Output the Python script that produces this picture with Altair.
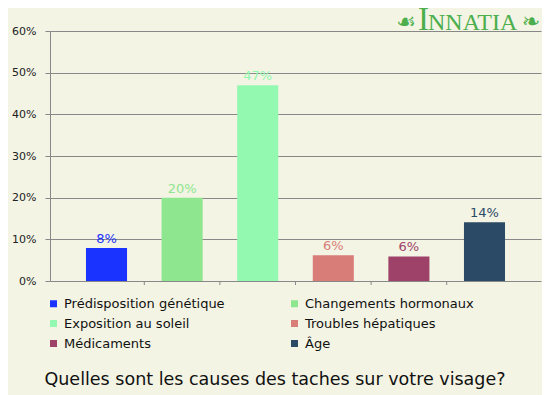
import altair as alt
import pandas as pd

categories = ["Prédisposition génétique", "Changements hormonaux", "Exposition au soleil",
              "Troubles hépatiques", "Médicaments", "Âge"]
values = [7.9, 20.0, 47.0, 6.2, 5.9, 14.1]
colors = ["#1a33ff", "#8ee68e", "#93f8b0", "#d97d78", "#9e426a", "#2b4a66"]
y_ticks = [0, 10, 20, 30, 40, 50, 60]
title_text = "Quelles sont les causes des taches sur votre visage?"

# legend is laid out column-major, so order entries to read row-wise as in the reference
legend_order = [categories[i] for i in (0, 2, 4, 1, 3, 5)]
legend_colors = [colors[i] for i in (0, 2, 4, 1, 3, 5)]

df = pd.DataFrame({"cat": categories, "val": values, "idx": list(range(len(categories)))})
df["label"] = [f"{round(v):d}%" for v in values]

FONT = "DejaVu Sans"
GRID = "#888888"
BG = "#f3f4e4"
W, H = 491, 250

xenc = alt.X("cat:N", sort=categories, axis=None,
             scale=alt.Scale(paddingInner=0.457, paddingOuter=0.476))
yscale = alt.Scale(domain=[0, 60], nice=False)
cscale = alt.Scale(domain=legend_order, range=legend_colors)

base = alt.Chart(df)

bars = base.mark_bar().encode(
    x=xenc,
    y=alt.Y("val:Q", scale=yscale,
            axis=alt.Axis(values=y_ticks, labelExpr="datum.value + '%'", title=None,
                          grid=True, gridColor=GRID, gridOpacity=1, gridWidth=1,
                          domainColor=GRID, tickColor=GRID, tickSize=5,
                          labelPadding=9, labelFont=FONT, labelFontSize=11,
                          labelColor="#222222")),
    color=alt.Color("cat:N", scale=cscale, sort=legend_order,
                    legend=alt.Legend(title=None, orient="none", legendX=-3, legendY=266,
                                      columns=2, columnPadding=55, rowPadding=6,
                                      symbolType="square", symbolSize=49,
                                      symbolStrokeWidth=0, labelFont=FONT,
                                      labelFontSize=13, labelColor="#111111",
                                      labelOffset=4, gridAlign="all", labelLimit=300,
                                      padding=0)),
)

labels = base.mark_text(baseline="bottom", dy=-2, font=FONT, fontSize=13).encode(
    x=xenc,
    y=alt.Y("val:Q", scale=yscale),
    text="label:N",
    color=alt.Color("cat:N", scale=cscale, legend=None),
)

seps = base.transform_filter("datum.idx > 0").mark_rule(
    color=GRID, strokeWidth=1, xOffset=-37.8
).encode(x=xenc, y=alt.value(H), y2=alt.value(H + 4))

title = alt.Chart(pd.DataFrame({"t": [title_text]})).mark_text(
    font=FONT, fontSize=17.5, color="#111111", align="center", baseline="alphabetic"
).encode(text="t:N", x=alt.value(225), y=alt.value(354))

GREEN = "#4cae4c"
logo_i = alt.Chart(pd.DataFrame({"t": ["I"]})).mark_text(
    font="Liberation Serif", fontSize=33, color=GREEN, align="left", baseline="alphabetic"
).encode(text="t:N", x=alt.value(368), y=alt.value(-1))

logo_rest = alt.Chart(pd.DataFrame({"t": ["NNATIA"]})).mark_text(
    font="Liberation Serif", fontSize=24, color=GREEN, align="left", baseline="alphabetic"
).encode(text="t:N", x=alt.value(378), y=alt.value(-1))

orn_l = alt.Chart(pd.DataFrame({"t": ["☙"]})).mark_text(
    font=FONT, fontSize=22, color=GREEN, align="center", baseline="middle"
).encode(text="t:N", x=alt.value(356), y=alt.value(-9))

orn_r = alt.Chart(pd.DataFrame({"t": ["❧"]})).mark_text(
    font=FONT, fontSize=22, color=GREEN, align="center", baseline="middle"
).encode(text="t:N", x=alt.value(481), y=alt.value(-9))

chart = alt.layer(bars, labels, seps, title, logo_i, logo_rest, orn_l, orn_r).properties(
    width=W, height=H,
    background=BG,
    autosize=alt.AutoSizeParams(type="none"),
    padding={"left": 42, "top": 23, "right": 1, "bottom": 114},
).configure_view(stroke=None)

chart.save("out.html", embed_options={"renderer": "svg", "actions": False})
